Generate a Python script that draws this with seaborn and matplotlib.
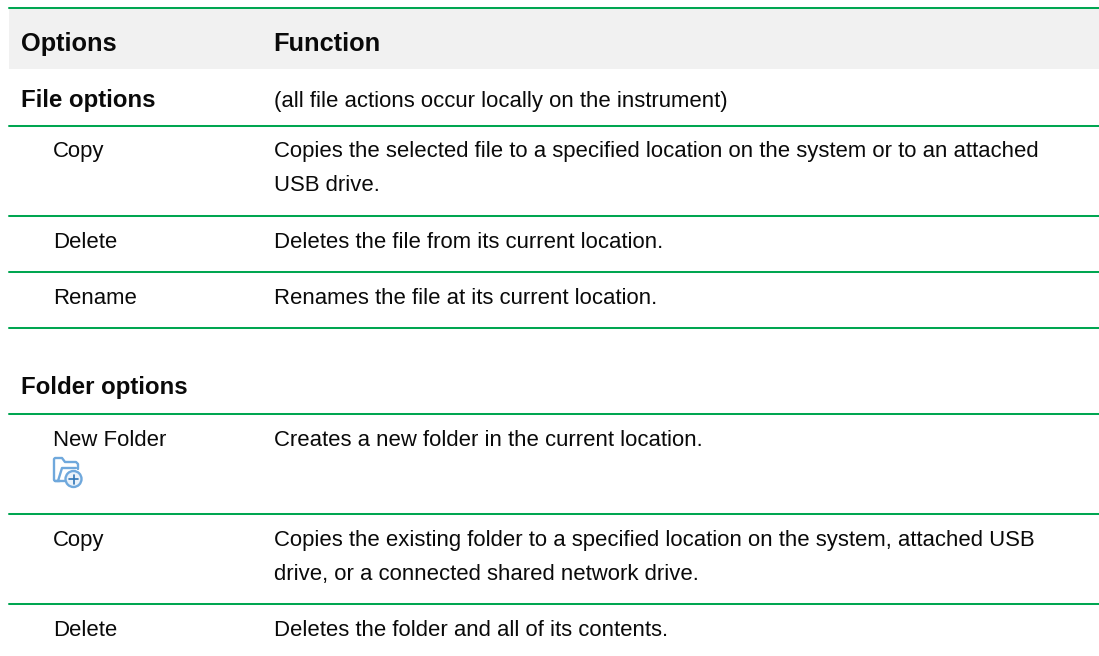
import matplotlib
matplotlib.use("Agg")
import matplotlib.pyplot as plt
import pandas as pd
import seaborn as sns
from matplotlib.patches import Circle

sns.set_theme(style="white")
plt.rcParams["font.family"] = ["Liberation Sans", "DejaVu Sans"]

GREEN = "#00a651"
HEADER_BG = "#f1f1f1"
ICON = "#6fa8dc"
ICON_DARK = "#2e75b6"
TEXT = "#0a0a0a"

header = ["Options", "Function"]
option_labels = ["File options", "Copy", "Delete", "Rename",
                 "Folder options", "New Folder", "Copy", "Delete"]
function_texts = [
    "(all file actions occur locally on the instrument)",
    "Copies the selected file to a specified location on the system or to an attached",
    "Deletes the file from its current location.",
    "Renames the file at its current location.",
    "",
    "Creates a new folder in the current location.",
    "Copies the existing folder to a specified location on the system, attached USB",
    "Deletes the folder and all of its contents.",
]
function_second_lines = {
    1: "USB drive.",
    6: "drive, or a connected shared network drive.",
}
bold_rows = [0, 4]

# layout in pixels
W, H = 1099, 656
LEFT = 9
rule_y = [8, 125.6, 215.7, 271.7, 327.7, 414, 513.6, 603.7]
baseline_y = [106.5, 157, 247.5, 304, 394, 446, 546, 636]
LINE_GAP = 34
FS = 15.9  # pt at dpi 100
FS_BOLD = 17.3
FS_HEAD = 18.3

fig = plt.figure(figsize=(W / 100, H / 100), dpi=100)
ax = fig.add_axes([0, 0, 1, 1])
ax.set_xlim(0, W)
ax.set_ylim(H, 0)

ax.axhspan(8, 69, xmin=LEFT / W, xmax=1, color=HEADER_BG, lw=0, zorder=0)

rules = pd.DataFrame({
    "x": [LEFT, W] * len(rule_y),
    "y": [y for y in rule_y for _ in (0, 1)],
    "rule": [i for i in range(len(rule_y)) for _ in (0, 1)],
})
sns.lineplot(data=rules, x="x", y="y", units="rule", estimator=None,
             color=GREEN, linewidth=1.45, ax=ax, legend=False, zorder=3)
ax.set_xlim(0, W)
ax.set_ylim(H, 0)

ax.text(21, 51, header[0], fontsize=FS_HEAD, fontweight="bold", color=TEXT, va="baseline")
ax.text(273.5, 51, header[1], fontsize=FS_HEAD, fontweight="bold", color=TEXT, va="baseline")

for i, label in enumerate(option_labels):
    is_bold = i in bold_rows
    x = 21 if is_bold else 53
    ax.text(x, baseline_y[i], label, color=TEXT, va="baseline",
            fontsize=FS_BOLD if is_bold else FS,
            fontweight="bold" if is_bold else "normal")
    if function_texts[i]:
        ax.text(274, baseline_y[i], function_texts[i], fontsize=FS, color=TEXT, va="baseline")
    if i in function_second_lines:
        ax.text(274, baseline_y[i] + LINE_GAP, function_second_lines[i], fontsize=FS,
                color=TEXT, va="baseline")

# new folder icon
ax.plot([60, 55, 54, 54, 55, 62, 65, 76, 78, 78],
        [481, 481, 480, 459, 458, 458, 462, 462, 464, 469],
        color=ICON, lw=1.7, solid_capstyle="round")
ax.plot([58, 62, 76], [481, 468, 468], color=ICON, lw=1.7)
ax.plot([55, 66], [481, 481], color=ICON, lw=1.7)
ax.add_patch(Circle((73.5, 479), 8, fill=True, fc="#eaf2fa", ec=ICON, lw=1.7, zorder=4))
ax.plot([69, 78], [479, 479], color=ICON_DARK, lw=1.2, zorder=5)
ax.plot([73.5, 73.5], [474.5, 483.5], color=ICON_DARK, lw=1.2, zorder=5)

ax.set_axis_off()
sns.despine(ax=ax, left=True, bottom=True)
fig.savefig("out.png", dpi=100, facecolor="white")
